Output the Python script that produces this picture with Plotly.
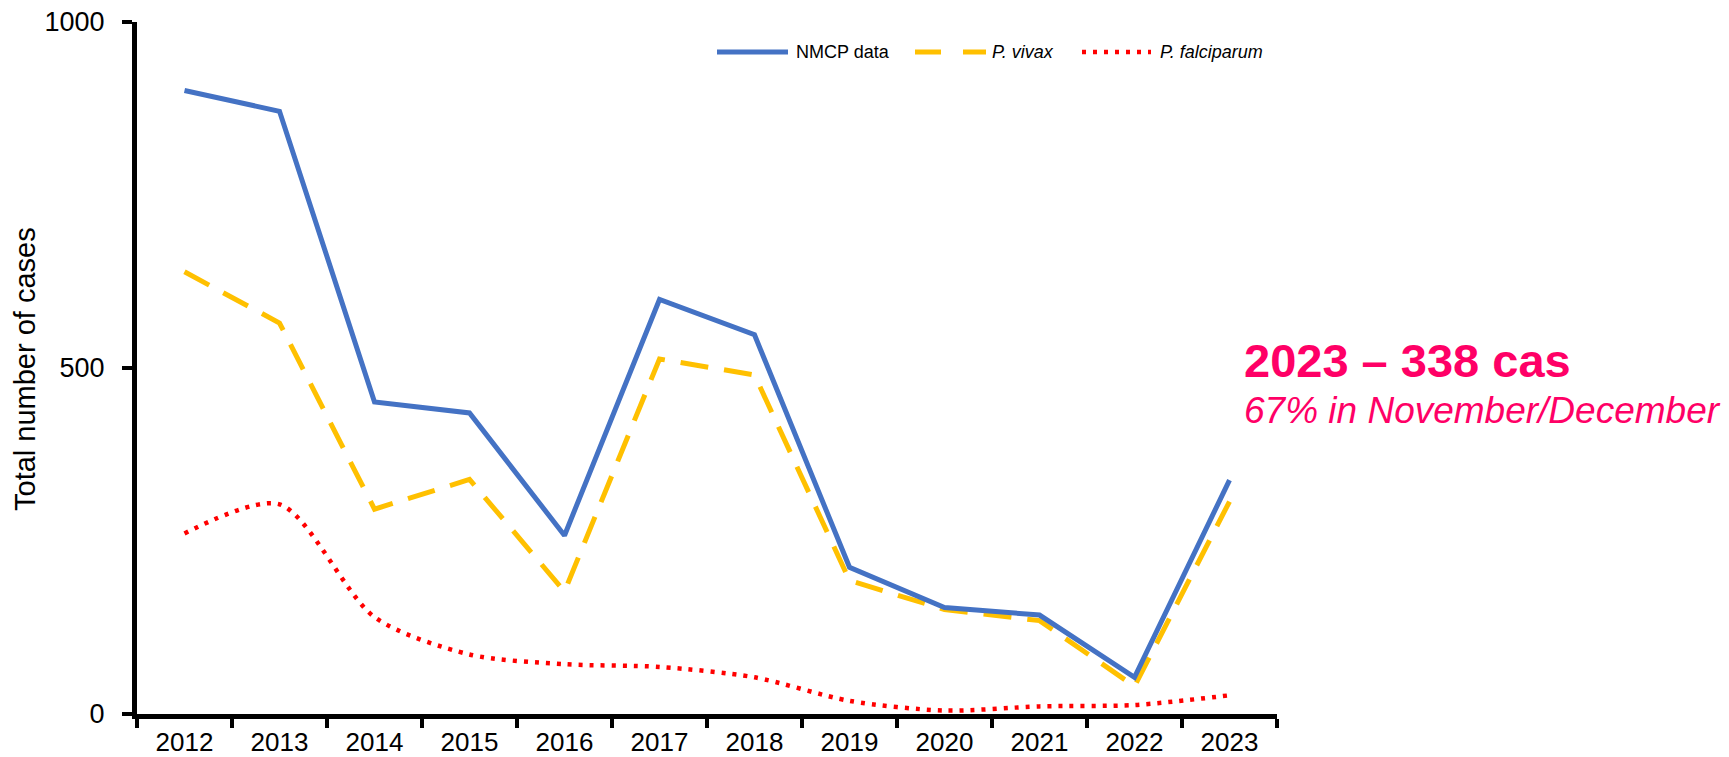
import plotly.graph_objects as go

years = ["2012", "2013", "2014", "2015", "2016", "2017", "2018", "2019", "2020", "2021", "2022", "2023"]
nmcp = [901, 871, 451, 435, 258, 599, 548, 212, 154, 143, 53, 338]
vivax = [639, 565, 296, 339, 177, 513, 490, 193, 151, 135, 40, 307]
falciparum = [261, 303, 140, 86, 72, 68, 53, 19, 5, 11, 13, 27]

y_ticks = [0, 500, 1000]
legend_names = ["NMCP data", "<i>P. vivax</i>", "<i>P. falciparum</i>"]

FONT = "Liberation Sans, Arial, sans-serif"
BLUE = "#4472C4"
YELLOW = "#FFC000"
RED = "#FF0000"
PINK = "#FF0066"

fig = go.Figure()
fig.add_trace(go.Scatter(x=years, y=vivax, mode="lines",
                         line=dict(color=YELLOW, width=5, dash="28px,16px"), showlegend=False))
fig.add_trace(go.Scatter(x=years, y=falciparum, mode="lines",
                         line=dict(color=RED, width=4.5, dash="4px,7px", shape="spline", smoothing=0.8),
                         showlegend=False))
fig.add_trace(go.Scatter(x=years, y=nmcp, mode="lines",
                         line=dict(color=BLUE, width=5), showlegend=False))

W, H = 1729, 757
L, R, T, B = 137, 1277, 22, 714


def px(x):
    return (x - L) / (R - L)


def py(y):
    return (B - y) / (B - T)


# custom legend
leg_y = py(52)
legend_items = [
    (717, 788, dict(color=BLUE, width=5), 795),
    (915, 986, dict(color=YELLOW, width=5, dash="26px,22px"), 991),
    (1082, 1151, dict(color=RED, width=4.5, dash="4px,7px"), 1159),
]
shapes = []
annotations = []
for (x0, x1, ln, tx), name in zip(legend_items, legend_names):
    shapes.append(dict(type="line", xref="paper", yref="paper", x0=px(x0), x1=px(x1),
                       y0=leg_y, y1=leg_y, line=ln))
    annotations.append(dict(xref="paper", yref="paper", x=px(tx), y=leg_y, xanchor="left",
                            yanchor="middle", text=name, showarrow=False,
                            font=dict(family=FONT, size=18, color="#000000"), borderpad=0))

annotations.append(dict(xref="paper", yref="paper", x=px(1243), y=py(360), xanchor="left",
                        yanchor="middle", text="<b>2023 – 338 cas</b>", showarrow=False,
                        font=dict(family=FONT, size=47, color=PINK), borderpad=0))
annotations.append(dict(xref="paper", yref="paper", x=px(1243), y=py(410), xanchor="left",
                        yanchor="middle", text="<i>67% in November/December</i>", showarrow=False,
                        font=dict(family=FONT, size=37, color=PINK), borderpad=0))
annotations.append(dict(xref="paper", yref="paper", x=px(25), y=py(369), xanchor="center",
                        yanchor="middle", text="Total number of cases", textangle=-90, showarrow=False,
                        font=dict(family=FONT, size=29, color="#000000"), borderpad=0))

fig.update_layout(
    width=W, height=H,
    margin=dict(l=L, r=W - R, t=T, b=H - B, pad=0, autoexpand=False),
    paper_bgcolor="white", plot_bgcolor="white",
    showlegend=False,
    shapes=shapes,
    annotations=annotations,
    xaxis=dict(type="category", range=[-0.5, 11.5], tickson="boundaries", ticks="outside",
               ticklen=9, tickwidth=3.5, tickcolor="black", showline=True, linecolor="black",
               linewidth=5, showgrid=False, zeroline=False, automargin=False,
               ticklabelstandoff=1,
               tickfont=dict(family=FONT, size=26, color="black")),
    yaxis=dict(range=[0, 1000], tickvals=y_ticks, ticks="outside", ticklen=10, tickwidth=4,
               tickcolor="black", showline=True, linecolor="black", linewidth=5,
               showgrid=False, zeroline=False, ticklabelstandoff=12, automargin=False,
               tickfont=dict(family=FONT, size=27, color="black")),
)

fig.write_html("out.html", config={"displayModeBar": False},
               post_script="document.body.style.margin='0';document.body.style.overflow='hidden';")
